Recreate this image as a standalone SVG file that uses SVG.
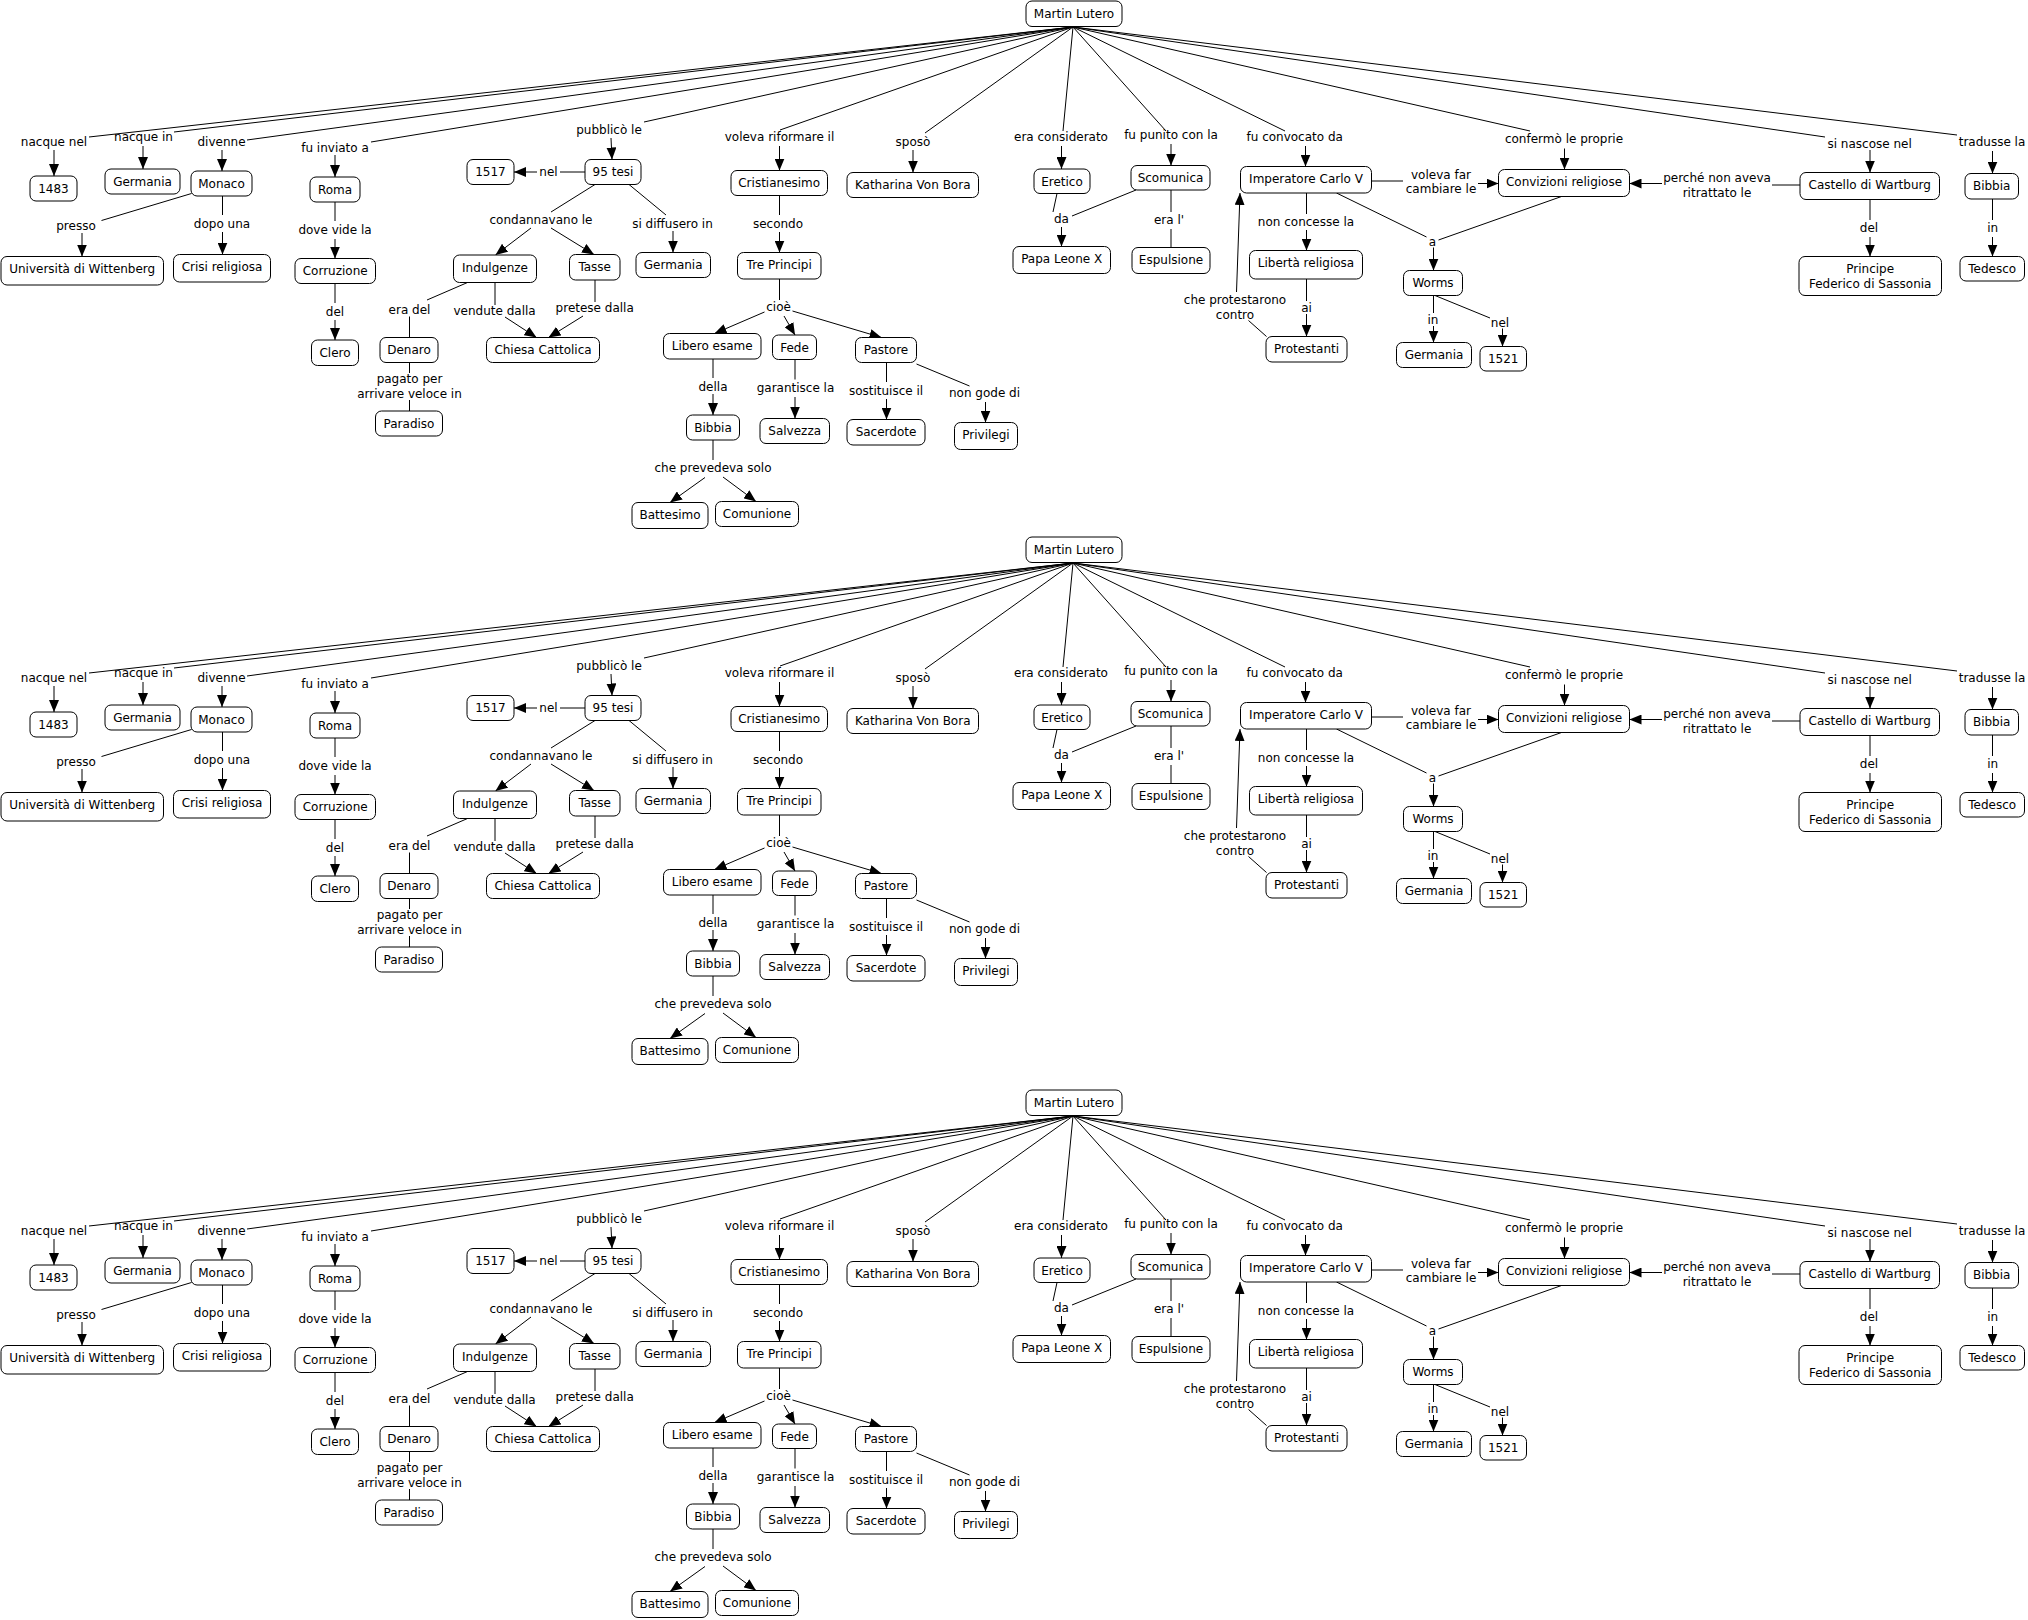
<svg xmlns="http://www.w3.org/2000/svg" width="2028" height="1620" viewBox="0 0 2028 1620">
<style>
rect{fill:#fff;stroke:#000;stroke-width:1;rx:6px;ry:6px}
text{font-family:"DejaVu Sans",Verdana,sans-serif;font-size:12px;text-anchor:middle;fill:#000}
.c,.a{fill:none;stroke:#000;stroke-width:1}
.a{marker-end:url(#ah)}
</style>
<defs>
<marker id="ah" markerUnits="userSpaceOnUse" markerWidth="12" markerHeight="10" refX="12" refY="5" orient="auto"><path d="M0,0L12,5L0,10z" fill="#000"/></marker>
</defs>
<rect x="0" y="0" width="2028" height="1620" style="fill:#fff;stroke:none;rx:0;ry:0"/>

<g id="m1">
<g id="m1-links">
<path class="c" d="M1073 27L89 137M1073 27L174 132M1073 27L247 140M1073 27L371 142M1073 27L644 122M1073 27L780 130M1073 27L925 133M1073 27L1063 131M1073 27L1166 131M1073 27L1285 131M1073 27L1530 131M1073 27L1825 137M1073 27L1957 135"/>
<path class="c" d="M585 172L560 172M595 184.5L551 212M629 184.5L666 215M191.5 193.5L101.5 220.5M222.5 196L222.5 215M335 202L335 221M335 283.5L335 303M467.5 282.5L427 300M409.5 316.5L409.5 337.5M495 282.5L495 305M595 280L595 302M409.5 362.5L409.5 373M409.5 400L409.5 411M779.5 195.5L779.5 215M779.5 279L779.5 300M713 359L713 378M795 359.5L795 379.5M886.5 362.5L886.5 382M916.5 364L969.5 386M713 440L713 460M1057 193.5L1053 212M1136 190L1072 216M1171 190L1171 212M1171 229L1171 247.5M1306.5 193L1306.5 214M1306.5 279L1306.5 301M1266.5 336.5L1248.5 320.5M1371.5 181L1403 181M1336.5 193L1426.5 237M1561.5 196.5L1438.5 240M1433.5 295.5L1433.5 313M1435 295.5L1490 318M1772 185L1800 185M1870 199.5L1870 220M1992.5 199L1992.5 220"/>
<path class="a" d="M54 150L54 176"/><path class="a" d="M143 146L143 169"/><path class="a" d="M222 150L222 171"/><path class="a" d="M335 155L335 177"/><path class="a" d="M611 138L612 159.5"/><path class="a" d="M537 172L514 172"/><path class="a" d="M531 228L495.5 255"/><path class="a" d="M551 228L594 254.5"/><path class="a" d="M673 231L673 252.5"/><path class="a" d="M82 233L82 256.5"/><path class="a" d="M222.5 232L222.5 254.5"/><path class="a" d="M335 239L335 258.5"/><path class="a" d="M335 320L335 340"/><path class="a" d="M505 317L536.5 337.5"/><path class="a" d="M583 316L548.5 337.5"/><path class="a" d="M779.5 146L779.5 170.5"/><path class="a" d="M779.5 232L779.5 252.5"/><path class="a" d="M764.5 312L714.5 333.5"/><path class="a" d="M784 316L795 335"/><path class="a" d="M792.5 311L881.5 337.5"/><path class="a" d="M713 394L713 415"/><path class="a" d="M795 397L795 418.5"/><path class="a" d="M886.5 399L886.5 419.5"/><path class="a" d="M985.5 402L985.5 422.5"/><path class="a" d="M705 477.5L670 502.5"/><path class="a" d="M723 477L756 501.5"/><path class="a" d="M913 150L913 172.5"/><path class="a" d="M1061.5 146L1061.5 169"/><path class="a" d="M1061.5 227L1061.5 246.5"/><path class="a" d="M1171 144L1171 165.5"/><path class="a" d="M1305.5 146L1305.5 166.5"/><path class="a" d="M1306.5 230L1306.5 250.5"/><path class="a" d="M1306.5 314L1306.5 336.5"/><path class="a" d="M1236.5 292L1240 193"/><path class="a" d="M1478 183.5L1498.5 183.5"/><path class="a" d="M1433.5 247.5L1433.5 270.5"/><path class="a" d="M1433.5 326L1433.5 342.5"/><path class="a" d="M1502.5 328.5L1502.5 346.5"/><path class="a" d="M1564.5 148.5L1564.5 169.5"/><path class="a" d="M1662 183.5L1629.5 183.5"/><path class="a" d="M1870 150L1870 172.5"/><path class="a" d="M1870 237L1870 256.5"/><path class="a" d="M1992.5 151L1992.5 173.5"/><path class="a" d="M1992.5 237L1992.5 256.5"/>
</g>
<g id="m1-labels">
<text x="54" y="145.7">nacque nel</text><text x="143.5" y="141">nacque in</text><text x="221.5" y="146">divenne</text><text x="335" y="151.7">fu inviato a</text><text x="609" y="134">pubblicò le</text><text x="548.5" y="176.3">nel</text><text x="541" y="224">condannavano le</text><text x="672.5" y="227.7">si diffusero in</text><text x="76" y="230">presso</text><text x="222" y="228">dopo una</text><text x="335" y="234">dove vide la</text><text x="335" y="315.7">del</text><text x="409.5" y="314">era del</text><text x="494.6" y="315">vendute dalla</text><text x="594.7" y="312.3">pretese dalla</text><text x="409.5" y="383.3">pagato per<tspan x="409.5" dy="15">arrivare veloce in</tspan></text><text x="779.5" y="140.7">voleva riformare il</text><text x="778" y="228">secondo</text><text x="778.6" y="310.7">cioè</text><text x="713" y="390.7">della</text><text x="795.5" y="392.3">garantisce la</text><text x="886" y="394.7">sostituisce il</text><text x="984.5" y="397.3">non gode di</text><text x="713" y="472.3">che prevedeva solo</text><text x="913" y="145.7">sposò</text><text x="1061" y="141">era considerato</text><text x="1171" y="139">fu punito con la</text><text x="1061.5" y="223">da</text><text x="1169" y="224">era l'</text><text x="1294.7" y="141.3">fu convocato da</text><text x="1306" y="226.3">non concesse la</text><text x="1235" y="304">che protestarono<tspan x="1235" dy="15">contro</tspan></text><text x="1306.5" y="312.3">ai</text><text x="1441" y="179">voleva far<tspan x="1441" dy="14.3">cambiare le</tspan></text><text x="1432.5" y="245.7">a</text><text x="1433" y="324">in</text><text x="1500" y="326.7">nel</text><text x="1564" y="143.3">confermò le proprie</text><text x="1717" y="182.3">perché non aveva<tspan x="1717" dy="14.4">ritrattato le</tspan></text><text x="1869.6" y="148">si nascose nel</text><text x="1869" y="232.3">del</text><text x="1992" y="145.7">tradusse la</text><text x="1992.7" y="232.3">in</text>
</g>
<g id="m1-ml"><rect x="1026" y="1" width="96" height="25.5"/><text x="1074" y="17.5">Martin Lutero</text></g>
<g id="m1-n1483"><rect x="30" y="176" width="47" height="25"/><text x="53.5" y="192.5">1483</text></g>
<g id="m1-germ1"><rect x="105" y="169" width="75" height="25"/><text x="142.5" y="185.5">Germania</text></g>
<g id="m1-monaco"><rect x="191" y="171" width="61" height="25"/><text x="221.5" y="187.5">Monaco</text></g>
<g id="m1-roma"><rect x="310" y="177" width="50" height="25"/><text x="335" y="193.5">Roma</text></g>
<g id="m1-n1517"><rect x="467" y="159.5" width="47" height="25"/><text x="490.5" y="176">1517</text></g>
<g id="m1-tesi"><rect x="585" y="159.5" width="56" height="25"/><text x="613" y="176">95 tesi</text></g>
<g id="m1-univ"><rect x="1" y="256.5" width="162.5" height="28.5"/><text x="82.2" y="273">Università di Wittenberg</text></g>
<g id="m1-crisi"><rect x="173.5" y="254.5" width="97" height="27.5"/><text x="222" y="271">Crisi religiosa</text></g>
<g id="m1-corr"><rect x="295" y="258.5" width="80.5" height="25"/><text x="335.2" y="275">Corruzione</text></g>
<g id="m1-clero"><rect x="311.5" y="340" width="47" height="25.5"/><text x="335" y="356.5">Clero</text></g>
<g id="m1-indulg"><rect x="453.5" y="255" width="83" height="27.5"/><text x="495" y="271.5">Indulgenze</text></g>
<g id="m1-tasse"><rect x="569.5" y="254.5" width="50.5" height="25.5"/><text x="594.7" y="271">Tasse</text></g>
<g id="m1-germ2"><rect x="636" y="252.5" width="74.5" height="25"/><text x="673.2" y="269">Germania</text></g>
<g id="m1-denaro"><rect x="380" y="337.5" width="58" height="25"/><text x="409" y="354">Denaro</text></g>
<g id="m1-chiesa"><rect x="486.5" y="337.5" width="113" height="25"/><text x="543" y="354">Chiesa Cattolica</text></g>
<g id="m1-paradiso"><rect x="375.5" y="411" width="67" height="25"/><text x="409" y="427.5">Paradiso</text></g>
<g id="m1-crist"><rect x="731" y="170.5" width="96.5" height="25"/><text x="779.2" y="187">Cristianesimo</text></g>
<g id="m1-kath"><rect x="847" y="172.5" width="131.5" height="25"/><text x="912.7" y="189">Katharina Von Bora</text></g>
<g id="m1-tre"><rect x="737.5" y="252.5" width="83.5" height="26.5"/><text x="779.2" y="269">Tre Principi</text></g>
<g id="m1-libero"><rect x="663.5" y="333.5" width="97.5" height="25.5"/><text x="712.2" y="350">Libero esame</text></g>
<g id="m1-fede"><rect x="772.5" y="335" width="44" height="24.5"/><text x="794.5" y="351.5">Fede</text></g>
<g id="m1-pastore"><rect x="855.5" y="337.5" width="61" height="25"/><text x="886" y="354">Pastore</text></g>
<g id="m1-bibbia1"><rect x="686.5" y="415" width="53" height="25"/><text x="713" y="431.5">Bibbia</text></g>
<g id="m1-salv"><rect x="760" y="418.5" width="69.5" height="25"/><text x="794.7" y="435">Salvezza</text></g>
<g id="m1-sacerd"><rect x="847" y="419.5" width="78" height="25.5"/><text x="886" y="436">Sacerdote</text></g>
<g id="m1-privil"><rect x="954.5" y="422.5" width="63" height="27"/><text x="986" y="439">Privilegi</text></g>
<g id="m1-battes"><rect x="632" y="502.5" width="76" height="26"/><text x="670" y="519">Battesimo</text></g>
<g id="m1-comun"><rect x="715.5" y="501.5" width="83" height="25"/><text x="757" y="518">Comunione</text></g>
<g id="m1-eretico"><rect x="1034" y="169" width="56" height="24.5"/><text x="1062" y="185.5">Eretico</text></g>
<g id="m1-scom"><rect x="1131" y="165.5" width="79" height="24.5"/><text x="1170.5" y="182">Scomunica</text></g>
<g id="m1-papa"><rect x="1013" y="246.5" width="97.5" height="27"/><text x="1061.7" y="263">Papa Leone X</text></g>
<g id="m1-espuls"><rect x="1132" y="247.5" width="78" height="26"/><text x="1171" y="264">Espulsione</text></g>
<g id="m1-imper"><rect x="1240.5" y="166.5" width="131" height="26.5"/><text x="1306" y="183">Imperatore Carlo V</text></g>
<g id="m1-liberta"><rect x="1249.5" y="250.5" width="113" height="28.5"/><text x="1306" y="267">Libertà religiosa</text></g>
<g id="m1-protest"><rect x="1266" y="336.5" width="81" height="25.5"/><text x="1306.5" y="353">Protestanti</text></g>
<g id="m1-conv"><rect x="1498.5" y="169.5" width="131" height="27"/><text x="1564" y="186">Convizioni religiose</text></g>
<g id="m1-worms"><rect x="1403.5" y="270.5" width="59" height="25"/><text x="1433" y="287">Worms</text></g>
<g id="m1-germ3"><rect x="1396.5" y="342.5" width="75" height="25"/><text x="1434" y="359">Germania</text></g>
<g id="m1-n1521"><rect x="1480" y="346.5" width="46.5" height="24.5"/><text x="1503.2" y="363">1521</text></g>
<g id="m1-castello"><rect x="1800" y="172.5" width="139.5" height="27"/><text x="1869.7" y="189">Castello di Wartburg</text></g>
<g id="m1-principe"><rect x="1799" y="256.5" width="142.5" height="39"/><text x="1870.2" y="272.5">Principe<tspan x="1870.2" dy="15">Federico di Sassonia</tspan></text></g>
<g id="m1-bibbia2"><rect x="1965" y="173.5" width="53.5" height="25.5"/><text x="1991.7" y="190">Bibbia</text></g>
<g id="m1-tedesco"><rect x="1960" y="256.5" width="64.5" height="24.5"/><text x="1992.2" y="273">Tedesco</text></g>
</g>

<g id="m2" transform="translate(0,536)">
<g id="m2-links">
<path class="c" d="M1073 27L89 137M1073 27L174 132M1073 27L247 140M1073 27L371 142M1073 27L644 122M1073 27L780 130M1073 27L925 133M1073 27L1063 131M1073 27L1166 131M1073 27L1285 131M1073 27L1530 131M1073 27L1825 137M1073 27L1957 135"/>
<path class="c" d="M585 172L560 172M595 184.5L551 212M629 184.5L666 215M191.5 193.5L101.5 220.5M222.5 196L222.5 215M335 202L335 221M335 283.5L335 303M467.5 282.5L427 300M409.5 316.5L409.5 337.5M495 282.5L495 305M595 280L595 302M409.5 362.5L409.5 373M409.5 400L409.5 411M779.5 195.5L779.5 215M779.5 279L779.5 300M713 359L713 378M795 359.5L795 379.5M886.5 362.5L886.5 382M916.5 364L969.5 386M713 440L713 460M1057 193.5L1053 212M1136 190L1072 216M1171 190L1171 212M1171 229L1171 247.5M1306.5 193L1306.5 214M1306.5 279L1306.5 301M1266.5 336.5L1248.5 320.5M1371.5 181L1403 181M1336.5 193L1426.5 237M1561.5 196.5L1438.5 240M1433.5 295.5L1433.5 313M1435 295.5L1490 318M1772 185L1800 185M1870 199.5L1870 220M1992.5 199L1992.5 220"/>
<path class="a" d="M54 150L54 176"/><path class="a" d="M143 146L143 169"/><path class="a" d="M222 150L222 171"/><path class="a" d="M335 155L335 177"/><path class="a" d="M611 138L612 159.5"/><path class="a" d="M537 172L514 172"/><path class="a" d="M531 228L495.5 255"/><path class="a" d="M551 228L594 254.5"/><path class="a" d="M673 231L673 252.5"/><path class="a" d="M82 233L82 256.5"/><path class="a" d="M222.5 232L222.5 254.5"/><path class="a" d="M335 239L335 258.5"/><path class="a" d="M335 320L335 340"/><path class="a" d="M505 317L536.5 337.5"/><path class="a" d="M583 316L548.5 337.5"/><path class="a" d="M779.5 146L779.5 170.5"/><path class="a" d="M779.5 232L779.5 252.5"/><path class="a" d="M764.5 312L714.5 333.5"/><path class="a" d="M784 316L795 335"/><path class="a" d="M792.5 311L881.5 337.5"/><path class="a" d="M713 394L713 415"/><path class="a" d="M795 397L795 418.5"/><path class="a" d="M886.5 399L886.5 419.5"/><path class="a" d="M985.5 402L985.5 422.5"/><path class="a" d="M705 477.5L670 502.5"/><path class="a" d="M723 477L756 501.5"/><path class="a" d="M913 150L913 172.5"/><path class="a" d="M1061.5 146L1061.5 169"/><path class="a" d="M1061.5 227L1061.5 246.5"/><path class="a" d="M1171 144L1171 165.5"/><path class="a" d="M1305.5 146L1305.5 166.5"/><path class="a" d="M1306.5 230L1306.5 250.5"/><path class="a" d="M1306.5 314L1306.5 336.5"/><path class="a" d="M1236.5 292L1240 193"/><path class="a" d="M1478 183.5L1498.5 183.5"/><path class="a" d="M1433.5 247.5L1433.5 270.5"/><path class="a" d="M1433.5 326L1433.5 342.5"/><path class="a" d="M1502.5 328.5L1502.5 346.5"/><path class="a" d="M1564.5 148.5L1564.5 169.5"/><path class="a" d="M1662 183.5L1629.5 183.5"/><path class="a" d="M1870 150L1870 172.5"/><path class="a" d="M1870 237L1870 256.5"/><path class="a" d="M1992.5 151L1992.5 173.5"/><path class="a" d="M1992.5 237L1992.5 256.5"/>
</g>
<g id="m2-labels">
<text x="54" y="145.7">nacque nel</text><text x="143.5" y="141">nacque in</text><text x="221.5" y="146">divenne</text><text x="335" y="151.7">fu inviato a</text><text x="609" y="134">pubblicò le</text><text x="548.5" y="176.3">nel</text><text x="541" y="224">condannavano le</text><text x="672.5" y="227.7">si diffusero in</text><text x="76" y="230">presso</text><text x="222" y="228">dopo una</text><text x="335" y="234">dove vide la</text><text x="335" y="315.7">del</text><text x="409.5" y="314">era del</text><text x="494.6" y="315">vendute dalla</text><text x="594.7" y="312.3">pretese dalla</text><text x="409.5" y="383.3">pagato per<tspan x="409.5" dy="15">arrivare veloce in</tspan></text><text x="779.5" y="140.7">voleva riformare il</text><text x="778" y="228">secondo</text><text x="778.6" y="310.7">cioè</text><text x="713" y="390.7">della</text><text x="795.5" y="392.3">garantisce la</text><text x="886" y="394.7">sostituisce il</text><text x="984.5" y="397.3">non gode di</text><text x="713" y="472.3">che prevedeva solo</text><text x="913" y="145.7">sposò</text><text x="1061" y="141">era considerato</text><text x="1171" y="139">fu punito con la</text><text x="1061.5" y="223">da</text><text x="1169" y="224">era l'</text><text x="1294.7" y="141.3">fu convocato da</text><text x="1306" y="226.3">non concesse la</text><text x="1235" y="304">che protestarono<tspan x="1235" dy="15">contro</tspan></text><text x="1306.5" y="312.3">ai</text><text x="1441" y="179">voleva far<tspan x="1441" dy="14.3">cambiare le</tspan></text><text x="1432.5" y="245.7">a</text><text x="1433" y="324">in</text><text x="1500" y="326.7">nel</text><text x="1564" y="143.3">confermò le proprie</text><text x="1717" y="182.3">perché non aveva<tspan x="1717" dy="14.4">ritrattato le</tspan></text><text x="1869.6" y="148">si nascose nel</text><text x="1869" y="232.3">del</text><text x="1992" y="145.7">tradusse la</text><text x="1992.7" y="232.3">in</text>
</g>
<g id="m2-ml"><rect x="1026" y="1" width="96" height="25.5"/><text x="1074" y="17.5">Martin Lutero</text></g>
<g id="m2-n1483"><rect x="30" y="176" width="47" height="25"/><text x="53.5" y="192.5">1483</text></g>
<g id="m2-germ1"><rect x="105" y="169" width="75" height="25"/><text x="142.5" y="185.5">Germania</text></g>
<g id="m2-monaco"><rect x="191" y="171" width="61" height="25"/><text x="221.5" y="187.5">Monaco</text></g>
<g id="m2-roma"><rect x="310" y="177" width="50" height="25"/><text x="335" y="193.5">Roma</text></g>
<g id="m2-n1517"><rect x="467" y="159.5" width="47" height="25"/><text x="490.5" y="176">1517</text></g>
<g id="m2-tesi"><rect x="585" y="159.5" width="56" height="25"/><text x="613" y="176">95 tesi</text></g>
<g id="m2-univ"><rect x="1" y="256.5" width="162.5" height="28.5"/><text x="82.2" y="273">Università di Wittenberg</text></g>
<g id="m2-crisi"><rect x="173.5" y="254.5" width="97" height="27.5"/><text x="222" y="271">Crisi religiosa</text></g>
<g id="m2-corr"><rect x="295" y="258.5" width="80.5" height="25"/><text x="335.2" y="275">Corruzione</text></g>
<g id="m2-clero"><rect x="311.5" y="340" width="47" height="25.5"/><text x="335" y="356.5">Clero</text></g>
<g id="m2-indulg"><rect x="453.5" y="255" width="83" height="27.5"/><text x="495" y="271.5">Indulgenze</text></g>
<g id="m2-tasse"><rect x="569.5" y="254.5" width="50.5" height="25.5"/><text x="594.7" y="271">Tasse</text></g>
<g id="m2-germ2"><rect x="636" y="252.5" width="74.5" height="25"/><text x="673.2" y="269">Germania</text></g>
<g id="m2-denaro"><rect x="380" y="337.5" width="58" height="25"/><text x="409" y="354">Denaro</text></g>
<g id="m2-chiesa"><rect x="486.5" y="337.5" width="113" height="25"/><text x="543" y="354">Chiesa Cattolica</text></g>
<g id="m2-paradiso"><rect x="375.5" y="411" width="67" height="25"/><text x="409" y="427.5">Paradiso</text></g>
<g id="m2-crist"><rect x="731" y="170.5" width="96.5" height="25"/><text x="779.2" y="187">Cristianesimo</text></g>
<g id="m2-kath"><rect x="847" y="172.5" width="131.5" height="25"/><text x="912.7" y="189">Katharina Von Bora</text></g>
<g id="m2-tre"><rect x="737.5" y="252.5" width="83.5" height="26.5"/><text x="779.2" y="269">Tre Principi</text></g>
<g id="m2-libero"><rect x="663.5" y="333.5" width="97.5" height="25.5"/><text x="712.2" y="350">Libero esame</text></g>
<g id="m2-fede"><rect x="772.5" y="335" width="44" height="24.5"/><text x="794.5" y="351.5">Fede</text></g>
<g id="m2-pastore"><rect x="855.5" y="337.5" width="61" height="25"/><text x="886" y="354">Pastore</text></g>
<g id="m2-bibbia1"><rect x="686.5" y="415" width="53" height="25"/><text x="713" y="431.5">Bibbia</text></g>
<g id="m2-salv"><rect x="760" y="418.5" width="69.5" height="25"/><text x="794.7" y="435">Salvezza</text></g>
<g id="m2-sacerd"><rect x="847" y="419.5" width="78" height="25.5"/><text x="886" y="436">Sacerdote</text></g>
<g id="m2-privil"><rect x="954.5" y="422.5" width="63" height="27"/><text x="986" y="439">Privilegi</text></g>
<g id="m2-battes"><rect x="632" y="502.5" width="76" height="26"/><text x="670" y="519">Battesimo</text></g>
<g id="m2-comun"><rect x="715.5" y="501.5" width="83" height="25"/><text x="757" y="518">Comunione</text></g>
<g id="m2-eretico"><rect x="1034" y="169" width="56" height="24.5"/><text x="1062" y="185.5">Eretico</text></g>
<g id="m2-scom"><rect x="1131" y="165.5" width="79" height="24.5"/><text x="1170.5" y="182">Scomunica</text></g>
<g id="m2-papa"><rect x="1013" y="246.5" width="97.5" height="27"/><text x="1061.7" y="263">Papa Leone X</text></g>
<g id="m2-espuls"><rect x="1132" y="247.5" width="78" height="26"/><text x="1171" y="264">Espulsione</text></g>
<g id="m2-imper"><rect x="1240.5" y="166.5" width="131" height="26.5"/><text x="1306" y="183">Imperatore Carlo V</text></g>
<g id="m2-liberta"><rect x="1249.5" y="250.5" width="113" height="28.5"/><text x="1306" y="267">Libertà religiosa</text></g>
<g id="m2-protest"><rect x="1266" y="336.5" width="81" height="25.5"/><text x="1306.5" y="353">Protestanti</text></g>
<g id="m2-conv"><rect x="1498.5" y="169.5" width="131" height="27"/><text x="1564" y="186">Convizioni religiose</text></g>
<g id="m2-worms"><rect x="1403.5" y="270.5" width="59" height="25"/><text x="1433" y="287">Worms</text></g>
<g id="m2-germ3"><rect x="1396.5" y="342.5" width="75" height="25"/><text x="1434" y="359">Germania</text></g>
<g id="m2-n1521"><rect x="1480" y="346.5" width="46.5" height="24.5"/><text x="1503.2" y="363">1521</text></g>
<g id="m2-castello"><rect x="1800" y="172.5" width="139.5" height="27"/><text x="1869.7" y="189">Castello di Wartburg</text></g>
<g id="m2-principe"><rect x="1799" y="256.5" width="142.5" height="39"/><text x="1870.2" y="272.5">Principe<tspan x="1870.2" dy="15">Federico di Sassonia</tspan></text></g>
<g id="m2-bibbia2"><rect x="1965" y="173.5" width="53.5" height="25.5"/><text x="1991.7" y="190">Bibbia</text></g>
<g id="m2-tedesco"><rect x="1960" y="256.5" width="64.5" height="24.5"/><text x="1992.2" y="273">Tedesco</text></g>
</g>

<g id="m3" transform="translate(0,1089)">
<g id="m3-links">
<path class="c" d="M1073 27L89 137M1073 27L174 132M1073 27L247 140M1073 27L371 142M1073 27L644 122M1073 27L780 130M1073 27L925 133M1073 27L1063 131M1073 27L1166 131M1073 27L1285 131M1073 27L1530 131M1073 27L1825 137M1073 27L1957 135"/>
<path class="c" d="M585 172L560 172M595 184.5L551 212M629 184.5L666 215M191.5 193.5L101.5 220.5M222.5 196L222.5 215M335 202L335 221M335 283.5L335 303M467.5 282.5L427 300M409.5 316.5L409.5 337.5M495 282.5L495 305M595 280L595 302M409.5 362.5L409.5 373M409.5 400L409.5 411M779.5 195.5L779.5 215M779.5 279L779.5 300M713 359L713 378M795 359.5L795 379.5M886.5 362.5L886.5 382M916.5 364L969.5 386M713 440L713 460M1057 193.5L1053 212M1136 190L1072 216M1171 190L1171 212M1171 229L1171 247.5M1306.5 193L1306.5 214M1306.5 279L1306.5 301M1266.5 336.5L1248.5 320.5M1371.5 181L1403 181M1336.5 193L1426.5 237M1561.5 196.5L1438.5 240M1433.5 295.5L1433.5 313M1435 295.5L1490 318M1772 185L1800 185M1870 199.5L1870 220M1992.5 199L1992.5 220"/>
<path class="a" d="M54 150L54 176"/><path class="a" d="M143 146L143 169"/><path class="a" d="M222 150L222 171"/><path class="a" d="M335 155L335 177"/><path class="a" d="M611 138L612 159.5"/><path class="a" d="M537 172L514 172"/><path class="a" d="M531 228L495.5 255"/><path class="a" d="M551 228L594 254.5"/><path class="a" d="M673 231L673 252.5"/><path class="a" d="M82 233L82 256.5"/><path class="a" d="M222.5 232L222.5 254.5"/><path class="a" d="M335 239L335 258.5"/><path class="a" d="M335 320L335 340"/><path class="a" d="M505 317L536.5 337.5"/><path class="a" d="M583 316L548.5 337.5"/><path class="a" d="M779.5 146L779.5 170.5"/><path class="a" d="M779.5 232L779.5 252.5"/><path class="a" d="M764.5 312L714.5 333.5"/><path class="a" d="M784 316L795 335"/><path class="a" d="M792.5 311L881.5 337.5"/><path class="a" d="M713 394L713 415"/><path class="a" d="M795 397L795 418.5"/><path class="a" d="M886.5 399L886.5 419.5"/><path class="a" d="M985.5 402L985.5 422.5"/><path class="a" d="M705 477.5L670 502.5"/><path class="a" d="M723 477L756 501.5"/><path class="a" d="M913 150L913 172.5"/><path class="a" d="M1061.5 146L1061.5 169"/><path class="a" d="M1061.5 227L1061.5 246.5"/><path class="a" d="M1171 144L1171 165.5"/><path class="a" d="M1305.5 146L1305.5 166.5"/><path class="a" d="M1306.5 230L1306.5 250.5"/><path class="a" d="M1306.5 314L1306.5 336.5"/><path class="a" d="M1236.5 292L1240 193"/><path class="a" d="M1478 183.5L1498.5 183.5"/><path class="a" d="M1433.5 247.5L1433.5 270.5"/><path class="a" d="M1433.5 326L1433.5 342.5"/><path class="a" d="M1502.5 328.5L1502.5 346.5"/><path class="a" d="M1564.5 148.5L1564.5 169.5"/><path class="a" d="M1662 183.5L1629.5 183.5"/><path class="a" d="M1870 150L1870 172.5"/><path class="a" d="M1870 237L1870 256.5"/><path class="a" d="M1992.5 151L1992.5 173.5"/><path class="a" d="M1992.5 237L1992.5 256.5"/>
</g>
<g id="m3-labels">
<text x="54" y="145.7">nacque nel</text><text x="143.5" y="141">nacque in</text><text x="221.5" y="146">divenne</text><text x="335" y="151.7">fu inviato a</text><text x="609" y="134">pubblicò le</text><text x="548.5" y="176.3">nel</text><text x="541" y="224">condannavano le</text><text x="672.5" y="227.7">si diffusero in</text><text x="76" y="230">presso</text><text x="222" y="228">dopo una</text><text x="335" y="234">dove vide la</text><text x="335" y="315.7">del</text><text x="409.5" y="314">era del</text><text x="494.6" y="315">vendute dalla</text><text x="594.7" y="312.3">pretese dalla</text><text x="409.5" y="383.3">pagato per<tspan x="409.5" dy="15">arrivare veloce in</tspan></text><text x="779.5" y="140.7">voleva riformare il</text><text x="778" y="228">secondo</text><text x="778.6" y="310.7">cioè</text><text x="713" y="390.7">della</text><text x="795.5" y="392.3">garantisce la</text><text x="886" y="394.7">sostituisce il</text><text x="984.5" y="397.3">non gode di</text><text x="713" y="472.3">che prevedeva solo</text><text x="913" y="145.7">sposò</text><text x="1061" y="141">era considerato</text><text x="1171" y="139">fu punito con la</text><text x="1061.5" y="223">da</text><text x="1169" y="224">era l'</text><text x="1294.7" y="141.3">fu convocato da</text><text x="1306" y="226.3">non concesse la</text><text x="1235" y="304">che protestarono<tspan x="1235" dy="15">contro</tspan></text><text x="1306.5" y="312.3">ai</text><text x="1441" y="179">voleva far<tspan x="1441" dy="14.3">cambiare le</tspan></text><text x="1432.5" y="245.7">a</text><text x="1433" y="324">in</text><text x="1500" y="326.7">nel</text><text x="1564" y="143.3">confermò le proprie</text><text x="1717" y="182.3">perché non aveva<tspan x="1717" dy="14.4">ritrattato le</tspan></text><text x="1869.6" y="148">si nascose nel</text><text x="1869" y="232.3">del</text><text x="1992" y="145.7">tradusse la</text><text x="1992.7" y="232.3">in</text>
</g>
<g id="m3-ml"><rect x="1026" y="1" width="96" height="25.5"/><text x="1074" y="17.5">Martin Lutero</text></g>
<g id="m3-n1483"><rect x="30" y="176" width="47" height="25"/><text x="53.5" y="192.5">1483</text></g>
<g id="m3-germ1"><rect x="105" y="169" width="75" height="25"/><text x="142.5" y="185.5">Germania</text></g>
<g id="m3-monaco"><rect x="191" y="171" width="61" height="25"/><text x="221.5" y="187.5">Monaco</text></g>
<g id="m3-roma"><rect x="310" y="177" width="50" height="25"/><text x="335" y="193.5">Roma</text></g>
<g id="m3-n1517"><rect x="467" y="159.5" width="47" height="25"/><text x="490.5" y="176">1517</text></g>
<g id="m3-tesi"><rect x="585" y="159.5" width="56" height="25"/><text x="613" y="176">95 tesi</text></g>
<g id="m3-univ"><rect x="1" y="256.5" width="162.5" height="28.5"/><text x="82.2" y="273">Università di Wittenberg</text></g>
<g id="m3-crisi"><rect x="173.5" y="254.5" width="97" height="27.5"/><text x="222" y="271">Crisi religiosa</text></g>
<g id="m3-corr"><rect x="295" y="258.5" width="80.5" height="25"/><text x="335.2" y="275">Corruzione</text></g>
<g id="m3-clero"><rect x="311.5" y="340" width="47" height="25.5"/><text x="335" y="356.5">Clero</text></g>
<g id="m3-indulg"><rect x="453.5" y="255" width="83" height="27.5"/><text x="495" y="271.5">Indulgenze</text></g>
<g id="m3-tasse"><rect x="569.5" y="254.5" width="50.5" height="25.5"/><text x="594.7" y="271">Tasse</text></g>
<g id="m3-germ2"><rect x="636" y="252.5" width="74.5" height="25"/><text x="673.2" y="269">Germania</text></g>
<g id="m3-denaro"><rect x="380" y="337.5" width="58" height="25"/><text x="409" y="354">Denaro</text></g>
<g id="m3-chiesa"><rect x="486.5" y="337.5" width="113" height="25"/><text x="543" y="354">Chiesa Cattolica</text></g>
<g id="m3-paradiso"><rect x="375.5" y="411" width="67" height="25"/><text x="409" y="427.5">Paradiso</text></g>
<g id="m3-crist"><rect x="731" y="170.5" width="96.5" height="25"/><text x="779.2" y="187">Cristianesimo</text></g>
<g id="m3-kath"><rect x="847" y="172.5" width="131.5" height="25"/><text x="912.7" y="189">Katharina Von Bora</text></g>
<g id="m3-tre"><rect x="737.5" y="252.5" width="83.5" height="26.5"/><text x="779.2" y="269">Tre Principi</text></g>
<g id="m3-libero"><rect x="663.5" y="333.5" width="97.5" height="25.5"/><text x="712.2" y="350">Libero esame</text></g>
<g id="m3-fede"><rect x="772.5" y="335" width="44" height="24.5"/><text x="794.5" y="351.5">Fede</text></g>
<g id="m3-pastore"><rect x="855.5" y="337.5" width="61" height="25"/><text x="886" y="354">Pastore</text></g>
<g id="m3-bibbia1"><rect x="686.5" y="415" width="53" height="25"/><text x="713" y="431.5">Bibbia</text></g>
<g id="m3-salv"><rect x="760" y="418.5" width="69.5" height="25"/><text x="794.7" y="435">Salvezza</text></g>
<g id="m3-sacerd"><rect x="847" y="419.5" width="78" height="25.5"/><text x="886" y="436">Sacerdote</text></g>
<g id="m3-privil"><rect x="954.5" y="422.5" width="63" height="27"/><text x="986" y="439">Privilegi</text></g>
<g id="m3-battes"><rect x="632" y="502.5" width="76" height="26"/><text x="670" y="519">Battesimo</text></g>
<g id="m3-comun"><rect x="715.5" y="501.5" width="83" height="25"/><text x="757" y="518">Comunione</text></g>
<g id="m3-eretico"><rect x="1034" y="169" width="56" height="24.5"/><text x="1062" y="185.5">Eretico</text></g>
<g id="m3-scom"><rect x="1131" y="165.5" width="79" height="24.5"/><text x="1170.5" y="182">Scomunica</text></g>
<g id="m3-papa"><rect x="1013" y="246.5" width="97.5" height="27"/><text x="1061.7" y="263">Papa Leone X</text></g>
<g id="m3-espuls"><rect x="1132" y="247.5" width="78" height="26"/><text x="1171" y="264">Espulsione</text></g>
<g id="m3-imper"><rect x="1240.5" y="166.5" width="131" height="26.5"/><text x="1306" y="183">Imperatore Carlo V</text></g>
<g id="m3-liberta"><rect x="1249.5" y="250.5" width="113" height="28.5"/><text x="1306" y="267">Libertà religiosa</text></g>
<g id="m3-protest"><rect x="1266" y="336.5" width="81" height="25.5"/><text x="1306.5" y="353">Protestanti</text></g>
<g id="m3-conv"><rect x="1498.5" y="169.5" width="131" height="27"/><text x="1564" y="186">Convizioni religiose</text></g>
<g id="m3-worms"><rect x="1403.5" y="270.5" width="59" height="25"/><text x="1433" y="287">Worms</text></g>
<g id="m3-germ3"><rect x="1396.5" y="342.5" width="75" height="25"/><text x="1434" y="359">Germania</text></g>
<g id="m3-n1521"><rect x="1480" y="346.5" width="46.5" height="24.5"/><text x="1503.2" y="363">1521</text></g>
<g id="m3-castello"><rect x="1800" y="172.5" width="139.5" height="27"/><text x="1869.7" y="189">Castello di Wartburg</text></g>
<g id="m3-principe"><rect x="1799" y="256.5" width="142.5" height="39"/><text x="1870.2" y="272.5">Principe<tspan x="1870.2" dy="15">Federico di Sassonia</tspan></text></g>
<g id="m3-bibbia2"><rect x="1965" y="173.5" width="53.5" height="25.5"/><text x="1991.7" y="190">Bibbia</text></g>
<g id="m3-tedesco"><rect x="1960" y="256.5" width="64.5" height="24.5"/><text x="1992.2" y="273">Tedesco</text></g>
</g>
</svg>
